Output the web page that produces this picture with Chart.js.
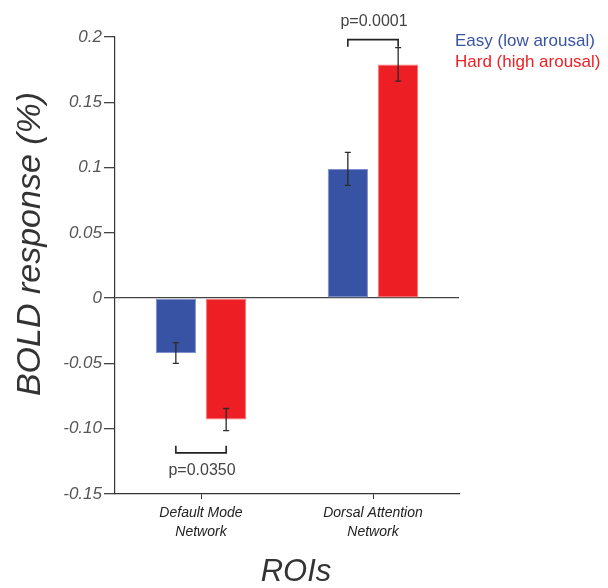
<!DOCTYPE html>
<html>
<head>
<meta charset="utf-8">
<script src="https://cdn.jsdelivr.net/npm/chart.js@4"></script>
<style>
  html, body { margin: 0; padding: 0; background: #fff; }
  #wrap { width: 608px; height: 588px; position: relative; }
</style>
</head>
<body>
<div id="wrap"><canvas id="chart"></canvas></div>
<script>
// 데이터
const categories = [['Default Mode', 'Network'], ['Dorsal Attention', 'Network']];
const seriesNames = ['Easy (low arousal)', 'Hard (high arousal)'];
const easyValues = [-0.042, 0.099];
const hardValues = [-0.093, 0.179];
const easyErrors = [0.008, 0.0127];
const hardErrors = [0.0085, 0.0128];
const yTickLabels = ['-0.15', '-0.10', '-0.05', '0', '0.05', '0.1', '0.15', '0.2'];

// 유의성 표시 (p값)
const sigLabels = ['p=0.0350', 'p=0.0001'];
const sigBracketY = [-0.1185, 0.198];
const sigLegY = [-0.113, 0.1925];

const blue = '#3953a4';
const red = '#ee1f24';
const fontFamily = "'Liberation Sans', Arial, sans-serif";

const overlay = {
  id: 'overlay',
  afterDatasetsDraw(chart) {
    const ctx = chart.ctx;
    const y = chart.scales.y;
    const errs = [easyErrors, hardErrors];
    const vals = [easyValues, hardValues];
    ctx.save();
    // 에러바
    ctx.strokeStyle = '#2a2a2a';
    ctx.lineWidth = 1.3;
    [0, 1].forEach(d => {
      chart.getDatasetMeta(d).data.forEach((bar, i) => {
        const top = y.getPixelForValue(vals[d][i] + errs[d][i]);
        const bot = y.getPixelForValue(vals[d][i] - errs[d][i]);
        const x = bar.x;
        ctx.beginPath();
        ctx.moveTo(x, top); ctx.lineTo(x, bot);
        ctx.moveTo(x - 3, top); ctx.lineTo(x + 3, top);
        ctx.moveTo(x - 3, bot); ctx.lineTo(x + 3, bot);
        ctx.stroke();
      });
    });
    // 브래킷
    ctx.lineWidth = 1.6;
    ctx.strokeStyle = '#222';
    ctx.fillStyle = '#444';
    ctx.font = '16px ' + fontFamily;
    ctx.textAlign = 'center';
    ctx.textBaseline = 'middle';
    sigLabels.forEach((label, i) => {
      const x1 = chart.getDatasetMeta(0).data[i].x;
      const x2 = chart.getDatasetMeta(1).data[i].x;
      const by = y.getPixelForValue(sigBracketY[i]);
      const ly = y.getPixelForValue(sigLegY[i]);
      ctx.beginPath();
      ctx.moveTo(x1, ly); ctx.lineTo(x1, by); ctx.lineTo(x2, by); ctx.lineTo(x2, ly);
      ctx.stroke();
      const dir = ly < by ? 1 : -1;
      ctx.fillText(label, (x1 + x2) / 2 + 1, by + dir * 18);
    });
    ctx.restore();
  },
  afterDraw(chart) {
    const ctx = chart.ctx;
    const area = chart.chartArea;
    ctx.save();
    // 범례
    ctx.font = '17px ' + fontFamily;
    ctx.textAlign = 'left';
    ctx.textBaseline = 'middle';
    chart.data.datasets.forEach((ds, i) => {
      ctx.fillStyle = ds.backgroundColor;
      ctx.fillText(ds.label, 455, 41 + i * 21);
    });
    // 축 제목
    ctx.fillStyle = '#333';
    ctx.textAlign = 'center';
    ctx.font = 'italic 34px ' + fontFamily;
    ctx.save();
    ctx.translate(31, 244);
    ctx.rotate(-Math.PI / 2);
    ctx.fillText('BOLD response (%)', 0, 0);
    ctx.restore();
    ctx.font = 'italic 31px ' + fontFamily;
    ctx.fillText('ROIs', (area.left + area.right) / 2 + 9, 572);
    ctx.restore();
  }
};

const data = {
  labels: categories,
  datasets: [
    {
      label: seriesNames[0],
      data: easyValues,
      backgroundColor: blue,
      borderColor: '#7d90cc',
      borderWidth: 1,
      borderSkipped: false,
      categoryPercentage: 0.585,
      barPercentage: 0.8
    },
    {
      label: seriesNames[1],
      data: hardValues,
      backgroundColor: red,
      borderColor: '#f6767a',
      borderWidth: 1,
      borderSkipped: false,
      categoryPercentage: 0.585,
      barPercentage: 0.8
    }
  ]
};

const config = {
  type: 'bar',
  data: data,
  options: {
    responsive: true,
    maintainAspectRatio: false,
    animation: false,
    layout: { padding: { top: 37, right: 149, left: 0, bottom: 0 } },
    plugins: {
      legend: { display: false },
      tooltip: { enabled: false }
    },
    scales: {
      x: {
        offset: true,
        grid: { display: true, drawOnChartArea: false, offset: false, tickLength: 5, tickColor: '#333' },
        border: { color: '#333', width: 1.2 },
        ticks: {
          color: '#222',
          padding: 5,
          font: { family: fontFamily, size: 14, style: 'italic', lineHeight: 1.35 }
        },
        afterFit(scale) { scale.height = 94; }
      },
      y: {
        min: -0.15,
        max: 0.2,
        ticks: {
          stepSize: 0.05,
          color: '#555',
          padding: 2,
          font: { family: fontFamily, size: 17, style: 'italic' },
          callback: (v, i) => yTickLabels[i]
        },
        grid: {
          drawOnChartArea: true,
          tickLength: 11,
          tickColor: '#444',
          color: c => (c.tick && Math.abs(c.tick.value) < 1e-9) ? '#444' : 'rgba(0,0,0,0)',
          lineWidth: 1.3
        },
        border: { color: '#333', width: 1.2 },
        afterFit(scale) { scale.width = 115; }
      }
    }
  },
  plugins: [overlay]
};

const chart = new Chart(document.getElementById('chart'), config);
</script>
</body>
</html>
